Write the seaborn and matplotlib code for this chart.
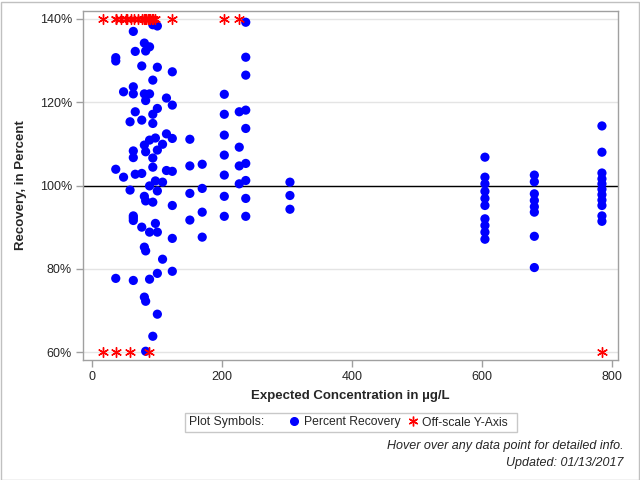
import numpy as np
import pandas as pd
import matplotlib
matplotlib.use('Agg')
import matplotlib.pyplot as plt
from matplotlib.lines import Line2D
from matplotlib.patches import Rectangle
import seaborn as sns

# Percent recovery vs expected concentration (ug/L)
conc = [37, 37, 37, 37,
        49, 49,
        59, 59,
        64, 64, 64, 64, 64, 64, 64, 64, 64,
        67, 67, 67,
        77, 77, 77, 77,
        81, 81, 81, 81, 81, 81,
        83, 83, 83, 83, 83, 83, 83,
        89, 89, 89, 89, 89, 89,
        94, 94, 94, 94, 94, 94, 94, 94,
        98, 98, 98,
        101, 101, 101, 101, 101, 101, 101, 101,
        109, 109, 109,
        115, 115, 115,
        124, 124, 124, 124, 124, 124, 124,
        151, 151, 151, 151,
        170, 170, 170, 170,
        204, 204, 204, 204, 204, 204, 204,
        227, 227, 227, 227,
        237, 237, 237, 237, 237, 237, 237, 237, 237,
        305, 305, 305,
        605, 605, 605, 605, 605, 605, 605, 605, 605, 605,
        681, 681, 681, 681, 681, 681, 681, 681,
        785, 785, 785, 785, 785, 785, 785, 785, 785, 785, 785]
recovery = [130.7, 129.9, 103.9, 77.7,
            122.5, 102.0,
            115.3, 98.9,
            137.0, 123.7, 122.0, 108.3, 106.7, 92.7, 92.2, 91.6, 77.2,
            132.2, 117.7, 102.7,
            128.7, 115.7, 102.9, 90.0,
            134.2, 122.0, 109.7, 97.4, 85.2, 73.2,
            132.3, 120.4, 108.1, 96.3, 84.3, 72.2, 60.2,
            133.3, 122.0, 110.9, 99.9, 88.8, 77.5,
            138.6, 125.3, 117.1, 114.9, 106.6, 104.4, 96.0, 63.8,
            111.4, 101.1, 90.9,
            138.3, 128.4, 118.5, 108.5, 98.7, 88.8, 78.9, 69.1,
            109.9, 100.8, 82.3,
            121.0, 112.4, 103.6,
            127.3, 119.3, 111.3, 103.4, 95.2, 87.3, 79.4,
            111.1, 104.7, 98.1, 91.7,
            105.1, 99.3, 93.6, 87.6,
            121.9, 117.1, 112.1, 107.3, 102.5, 97.4, 92.6,
            117.7, 109.2, 104.7, 100.4,
            139.2, 130.8, 126.5, 118.1, 113.7, 105.3, 101.2, 96.9, 92.6,
            100.8, 97.6, 94.3,
            106.8, 102.0, 100.4, 98.6, 96.9, 95.2, 92.0, 90.4, 88.8, 87.1,
            102.5, 100.9, 98.0, 96.4, 94.9, 93.6, 87.8, 80.3,
            114.3, 108.0, 103.0, 101.6, 100.4, 99.1, 97.8, 96.5, 95.2, 92.7, 91.4]

# off-scale points, pinned to the top (140%) or bottom (60%) of the axis
off_x = [18, 37, 38, 45, 52, 55, 60, 65, 71, 77, 80, 82, 84, 86, 88, 90, 92, 94, 98, 124, 204, 227,
         18, 37, 59, 88, 785]
off_y = [140]*22 + [60]*5

df = pd.DataFrame({'conc': conc, 'recovery': recovery})
off = pd.DataFrame({'conc': off_x, 'recovery': off_y})

sns.set_style('white')
plt.rcParams['font.family'] = ['Liberation Sans', 'DejaVu Sans']

fig = plt.figure(figsize=(6.4, 4.8), dpi=100)
ax = fig.add_axes([83/640, 120/480, 535/640, 349/480])

ax.yaxis.grid(True, color='#E4E4E4', lw=1)
ax.set_axisbelow(True)
ax.axhline(100, color='black', lw=1, zorder=1)

sns.scatterplot(data=df, x='conc', y='recovery', color='#0000FF', s=44,
                edgecolor='none', ax=ax, zorder=3)
sns.scatterplot(data=off, x='conc', y='recovery', marker=(6, 2, 0), color='red',
                edgecolor='red', s=50, linewidth=1, ax=ax, zorder=3)

ax.set_xlim(-13.4, 809.7)
ax.set_ylim(58.1, 141.9)
ax.set_xticks([0, 200, 400, 600, 800])
ax.set_yticks([60, 80, 100, 120, 140])
ax.set_yticklabels(['60%', '80%', '100%', '120%', '140%'])
ax.tick_params(axis='both', length=5, width=1, color='#A0A0A0', labelsize=9, direction='out',
               left=True, bottom=True, pad=3)
for s in ax.spines.values():
    s.set_color('#A0A0A0')
    s.set_linewidth(1)

ax.set_xlabel('Expected Concentration in µg/L', fontweight='bold', fontsize=9.5, labelpad=5)
ax.set_ylabel('Recovery, in Percent', fontweight='bold', fontsize=9.5, labelpad=9)

# legend box
fig.patches.append(Rectangle((185/640, 1 - 432/480), 332/640, 19/480, transform=fig.transFigure,
                             fill=False, ec='#C8C8C8', lw=1))
fig.text(189/640, 1 - 422.5/480, 'Plot Symbols:', va='center', fontsize=8.8)
handles = [Line2D([], [], marker='o', color='#0000FF', ls='none', markersize=5.5),
           Line2D([], [], marker=(6, 2, 0), color='red', ls='none', markersize=7, mew=1)]
fig.legend(handles, ['Percent Recovery', 'Off-scale Y-Axis'], loc='center left',
           bbox_to_anchor=(287/640, 1 - 422.5/480), ncol=2, frameon=False, fontsize=8.7,
           handletextpad=0.2, columnspacing=0.4, borderpad=0, handlelength=1.2, borderaxespad=0)

fig.text(624/640, 1 - 446/480, 'Hover over any data point for detailed info.', ha='right',
         va='center', style='italic', fontsize=9)
fig.text(624/640, 1 - 463/480, 'Updated: 01/13/2017', ha='right', va='center',
         style='italic', fontsize=9)

fig.patches.append(Rectangle((0.5/640, 0.5/480), 638/640, 478/480, transform=fig.transFigure,
                             fill=False, ec='#C0C0C0', lw=1))

fig.savefig('out.png', dpi=100)
